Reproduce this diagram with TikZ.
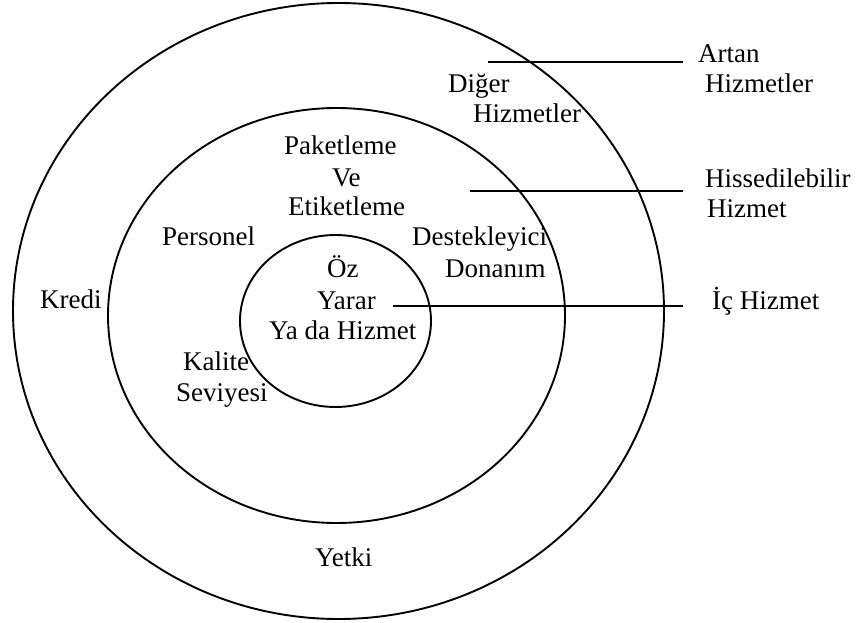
\documentclass[tikz,border=0pt]{standalone}
\usepackage{fontspec}
\setmainfont{Liberation Serif}
\begin{document}
\begin{tikzpicture}[x=1pt, y=-1pt,
  ring/.style={draw=black, line width=1.9pt},
  lead/.style={draw=black, line width=1.9pt},
  lbl/.style={inner sep=0pt, anchor=base west, font=\fontsize{27}{32}\selectfont}]
  \useasboundingbox (0,0) rectangle (865,623);

  % three nested service rings
  \draw[ring] (338.5,311) ellipse [x radius=325.5pt, y radius=308pt];
  \draw[ring] (336.5,315.5) ellipse [x radius=228.5pt, y radius=207.5pt];
  \draw[ring] (335.5,321) ellipse [x radius=95.5pt, y radius=86pt];

  % core
  \node[lbl] (oz)     at (327,277) {Öz};
  \node[lbl] (yarar)  at (317,309) {Yarar};
  \node[lbl] (yada)   at (269,339) {Ya da Hizmet};

  % tangible ring
  \node[lbl] (paket)  at (284,155) {Paketleme};
  \node[lbl] (ve)     at (332,186) {Ve};
  \node[lbl] (etiket) at (288,215) {Etiketleme};
  \node[lbl] (pers)   at (162,245) {Personel};
  \node[lbl] (destek) at (412,245) {Destekleyici};
  \node[lbl] (donan)  at (445,277) {Donanım};
  \node[lbl] (kalite) at (183,370) {Kalite};
  \node[lbl] (seviye) at (176,401) {Seviyesi};

  % augmented ring
  \node[lbl] (kredi)  at (40,308) {Kredi};
  \node[lbl] (yetki)  at (315,566) {Yetki};
  \node[lbl] (diger)  at (448,93) {Diğer};
  \node[lbl] (digerh) at (473,123) {Hizmetler};

  % side labels
  \node[lbl] (artan)  at (698,63) {Artan};
  \node[lbl] (artanh) at (705,93) {Hizmetler};
  \node[lbl] (hiss)   at (705,187) {Hissedilebilir};
  \node[lbl] (hissh)  at (707,217) {Hizmet};
  \node[lbl] (ic)     at (712,309) {İç Hizmet};

  % leader lines
  \coordinate (a0) at (488,62);  \coordinate (a1) at (683,62);
  \coordinate (h0) at (470,191); \coordinate (h1) at (683,191);
  \coordinate (i0) at (393,306); \coordinate (i1) at (683,306);
  \draw[lead] (a0) -- (a1);
  \draw[lead] (h0) -- (h1);
  \draw[lead] (i0) -- (i1);
\end{tikzpicture}
\end{document}
